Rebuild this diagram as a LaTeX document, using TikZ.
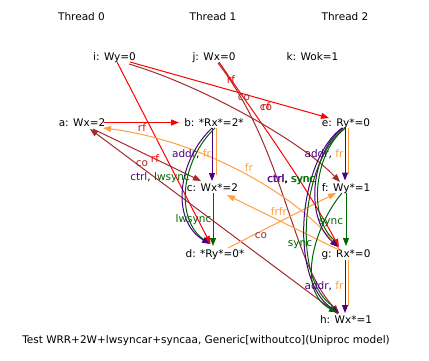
\documentclass[tikz,border=0pt]{standalone}
\usepackage{fontspec}
\setmainfont{DejaVu Sans}
\usetikzlibrary{arrows.meta}
\definecolor{rfc}{HTML}{FF0000}
\definecolor{coc}{HTML}{A52A2A}
\definecolor{frc}{HTML}{FFA040}
\definecolor{addrc}{HTML}{4B0082}
\definecolor{syncc}{HTML}{006400}
\begin{document}
\begin{tikzpicture}[x=1pt,y=-1pt,
  ev/.style={inner sep=0pt, text height=7.5pt, text depth=0pt, font=\fontsize{10.5}{12}\selectfont},
  con/.style={line width=1pt},
  arr/.style={con,-{Triangle[length=8pt,width=6pt]}},
]
\useasboundingbox (0,0) rectangle (429,361);
% threads
\node[ev] (t0) at (81.5,17) {Thread 0};
\node[ev] (t1) at (213,17) {Thread 1};
\node[ev] (t2) at (345,17) {Thread 2};
% events
\node[ev] (i) at (114.5,56.5) {i: Wy=0};
\node[ev] (j) at (214,56.5) {j: Wx=0};
\node[ev] (k) at (312.5,56.5) {k: Wok=1};
\node[ev] (a) at (82,122.5) {a: Wx=2};
\node[ev] (b) at (214,122.5) {b: *Rx*=2*};
\node[ev] (e) at (346,122.5) {e: Ry*=0};
\node[ev] (c) at (212.5,187.5) {c: Wx*=2};
\node[ev] (f) at (346,187.5) {f: Wy*=1};
\node[ev] (d) at (215,253.5) {d: *Ry*=0*};
\node[ev] (g) at (346,254) {g: Rx*=0};
\node[ev] (h) at (346,319.5) {h: Wx*=1};
\node[ev] (cap) at (206,339.5) {Test WRR+2W+lwsyncar+syncaa, Generic[withoutco](Uniproc model)};

% rf edges
\draw[arr,rfc] ([shift={(22,0)}]a.center) -- ([shift={(-35,0)}]b.center);
\draw[arr,rfc] ([shift={(2.5,5.5)}]i.center) -- ([shift={(-4.5,-9.5)}]d.center);
\draw[arr,rfc] ([shift={(15.5,5.5)}]i.center) -- ([shift={(-17,-4.5)}]e.center);
\draw[arr,rfc] ([shift={(5,5.5)}]j.center) .. controls (255,115) and (300,175) .. ([shift={(-7,-7)}]g.center);

% co edges
\draw[arr,coc] ([shift={(14.5,7.5)}]i.center) .. controls (200,85) and (300,140) .. ([shift={(-6,-5.5)}]f.center);
\draw[arr,coc] ([shift={(4,6.5)}]j.center) .. controls (285,150) and (290,260) .. ([shift={(-7,-6.5)}]h.center);
\draw[arr,coc] ([shift={(-8,-5.5)}]h.center) -- ([shift={(8,6.5)}]a.center);
\draw[arr,coc] ([shift={(11,6.5)}]a.center) -- ([shift={(-11.5,-6.5)}]c.center);

% fr edges
\draw[arr,frc] ([shift={(-7,-5)}]g.center) .. controls (300,195) and (200,140) .. ([shift={(21,5.5)}]a.center);
\draw[arr,frc] ([shift={(-7,-4)}]g.center) -- ([shift={(14.5,7.5)}]c.center);
\draw[arr,frc] ([shift={(13,-5.5)}]d.center) -- ([shift={(-10,5.5)}]f.center);

% thread 1 po edges
\draw[con,frc] ([shift={(2,5.5)}]b.center) -- ([shift={(3.5,-12.5)}]c.center);
\draw[arr,addrc] ([shift={(-2,5.5)}]b.center) -- ([shift={(-0.5,-6.5)}]c.center);
\draw[con,syncc] ([shift={(1,5.5)}]b.center) .. controls (181,160) and (174,220) .. ([shift={(-10,-13)}]d.center);
\draw[arr,addrc] ([shift={(-2,5.5)}]b.center) .. controls (178,160) and (170,220) .. ([shift={(-5,-9.5)}]d.center);
\draw[arr,syncc] ([shift={(0.5,5.5)}]c.center) -- ([shift={(-2,-7.5)}]d.center);

% thread 2 po edges
\draw[con,frc] ([shift={(2.5,5.5)}]e.center) -- ([shift={(2.5,-14)}]f.center);
\draw[arr,addrc] ([shift={(-1,5.5)}]e.center) -- ([shift={(-1,-7)}]f.center);
\draw[arr,syncc] ([shift={(0,5.5)}]f.center) -- ([shift={(0,-8)}]g.center);
\draw[con,frc] ([shift={(2.5,6)}]g.center) -- ([shift={(2.5,-13.5)}]h.center);
\draw[arr,addrc] ([shift={(-1,6)}]g.center) -- ([shift={(-1,-6.5)}]h.center);
\draw[con,syncc] ([shift={(-0.5,5.5)}]e.center) .. controls (316,150) and (306,215) .. ([shift={(-12,-14)}]g.center);
\draw[arr,addrc] ([shift={(-3,5.5)}]e.center) .. controls (313,150) and (303,215) .. ([shift={(-8,-7)}]g.center);
\draw[con,syncc] ([shift={(-1,5.5)}]e.center) .. controls (301,160) and (291,280) .. ([shift={(-13,-13.5)}]h.center);
\draw[arr,addrc] ([shift={(-4,5.5)}]e.center) .. controls (298,160) and (288,280) .. ([shift={(-7,-6.5)}]h.center);
\draw[arr,syncc] ([shift={(-4,5.5)}]f.center) .. controls (315,225) and (295,290) .. ([shift={(-9,-7)}]h.center);

% labels
\node[ev,text=rfc] (l1) at (142,128) {rf};
\node[ev,text=rfc] (l2) at (155,159) {rf};
\node[ev,text=rfc] (l3) at (231,80) {rf};
\node[ev,text=coc] (l4) at (266,107) {co};
\node[ev,text=rfc] (l5) at (266,107) {rf};
\node[ev,text=coc] (l6) at (244,97) {co};
\node[ev,text=coc] (l7) at (142,163) {co};
\node[ev,text=coc] (l8) at (261,235) {co};
\node[ev,text=frc] (l9) at (249,168) {fr};
\node[ev,text=frc] (l10) at (275,212) {fr};
\node[ev,text=frc] (l11) at (283,212) {fr};
\node[ev] (l12) at (191.5,154) {\textcolor{addrc}{addr}, \textcolor{frc}{fr}};
\node[ev] (l13) at (160,177) {\textcolor{addrc}{ctrl}, \textcolor{syncc}{lwsync}};
\node[ev,text=syncc] (l14) at (193.5,219) {lwsync};
\node[ev] (l15) at (324,154) {\textcolor{addrc}{addr}, \textcolor{frc}{fr}};
\node[ev] (l16) at (291,179) {\textcolor{addrc}{ctrl}, \textcolor{syncc}{sync}};
\node[ev] (l17) at (291.7,179) {\textcolor{addrc}{ctrl}, \textcolor{syncc}{sync}};
\node[ev,text=syncc] (l18) at (331,221) {sync};
\node[ev,text=syncc] (l19) at (300,243) {sync};
\node[ev] (l20) at (324,286) {\textcolor{addrc}{addr}, \textcolor{frc}{fr}};
\end{tikzpicture}
\end{document}
